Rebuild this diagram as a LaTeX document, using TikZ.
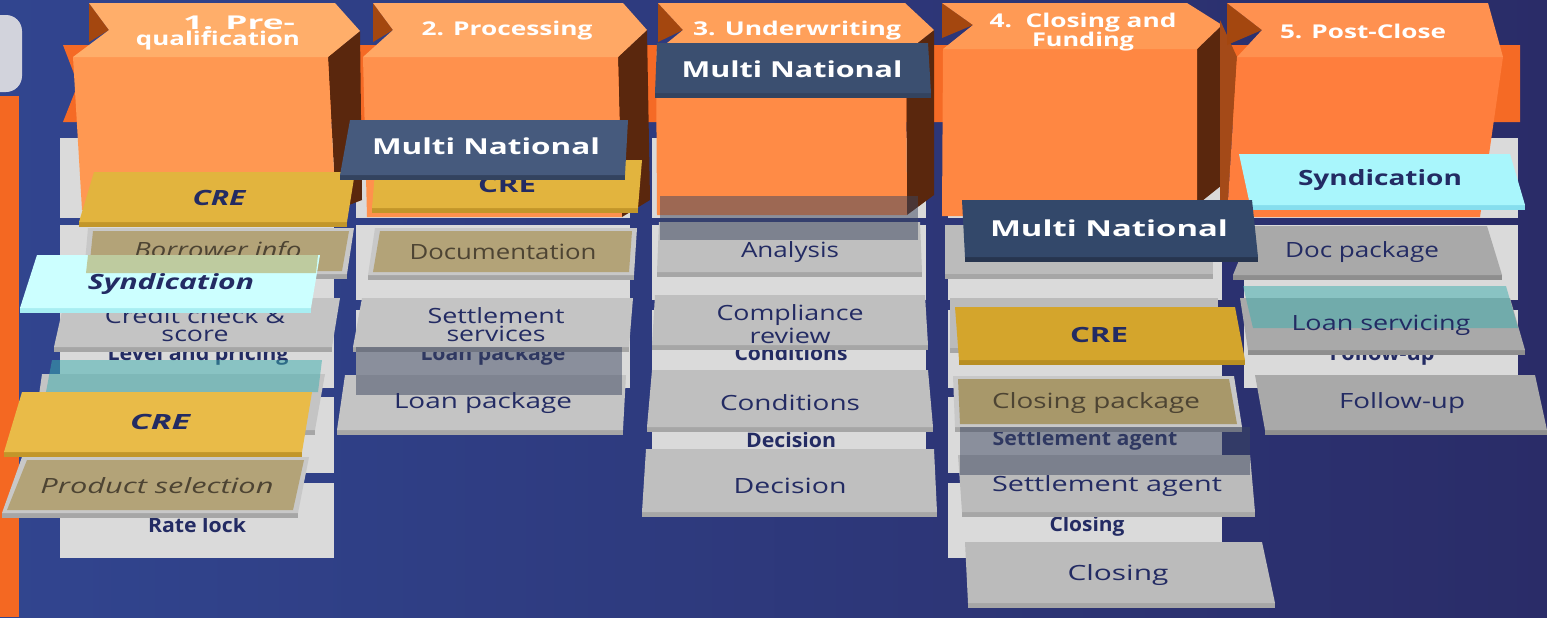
\documentclass[tikz,border=0pt]{standalone}
\usepackage{fontspec}
\setmainfont{Open Sans}
\usetikzlibrary{calc}
\definecolor{bgL}{HTML}{31458F}
\definecolor{bgR}{HTML}{2A2C68}
\definecolor{lgr}{HTML}{D2D3DC}
\definecolor{obar}{HTML}{F46822}
\definecolor{band}{HTML}{F56A25}
\definecolor{bd}{HTML}{DADADA}
\definecolor{navy}{HTML}{232B63}
\definecolor{tantxt}{HTML}{4D4433}
\definecolor{side}{HTML}{5A270D}
\definecolor{notch}{HTML}{A4470F}
\definecolor{lside}{HTML}{A44A18}
\definecolor{fr1}{HTML}{FF9852}\definecolor{tp1}{HTML}{FFAE6A}
\definecolor{fr2}{HTML}{FF914D}\definecolor{tp2}{HTML}{FFA865}
\definecolor{fr3}{HTML}{FF8B46}\definecolor{tp3}{HTML}{FFA05A}
\definecolor{fr4}{HTML}{FF8742}\definecolor{tp4}{HTML}{FF9A55}
\definecolor{fr5}{HTML}{FF7E3D}\definecolor{tp5}{HTML}{FF9150}
\definecolor{gold}{HTML}{E2B43E}\definecolor{goldE}{HTML}{C2962A}
\definecolor{gold2}{HTML}{E9BB48}
\definecolor{gold4}{HTML}{D4A52C}\definecolor{gold4E}{HTML}{B88E22}
\definecolor{mn}{HTML}{465A7D}\definecolor{mnE}{HTML}{33435F}
\definecolor{mn3}{HTML}{3B4F70}\definecolor{mn4}{HTML}{33486A}\definecolor{mn4E}{HTML}{27354F}
\definecolor{cy1}{HTML}{CCFFFF}\definecolor{cy1E}{HTML}{A8EEF2}
\definecolor{cy5}{HTML}{A9F6FC}\definecolor{cy5E}{HTML}{86DEEE}
\definecolor{tg}{HTML}{C4C4C4}\definecolor{tgE}{HTML}{A6A6A6}
\definecolor{tg3}{HTML}{BFBFBF}\definecolor{tg4}{HTML}{BBBBBB}
\definecolor{tg5}{HTML}{A9A9A9}\definecolor{tg5E}{HTML}{8E8E8E}
\definecolor{tan}{HTML}{B3A378}\definecolor{tanB}{HTML}{C8C8C8}
\definecolor{tan4}{HTML}{A8986A}
\definecolor{grn}{HTML}{BECB9F}
\definecolor{teal}{HTML}{3AAEAE}
\definecolor{ov}{HTML}{3C4660}
\newcommand\fw[2]{\resizebox{\dimexpr#1pt/2\relax}{\height}{#2}}
\newcommand\slab[6]{%
  \fill[#6] (#4) -- (#3) -- ($(#3)+(0,5)$) -- ($(#4)+(0,5)$) -- cycle;
  \fill[#5] (#1) -- (#2) -- (#3) -- (#4) -- cycle;}
\newcommand\tanslab[5]{%
  \slab{#1}{#2}{#3}{#4}{tanB}{tgE}%
  \fill[#5] ($(#1)+(5,3)$) -- ($(#2)+(-5,3)$) -- ($(#3)+(-5,-3)$) -- ($(#4)+(5,-3)$) -- cycle;}
\tikzset{
  tx/.style={inner sep=0pt,text=navy,font=\fontsize{10.5}{9}\selectfont,align=center,yshift=-1pt},
  bk/.style={inner sep=0pt,text=navy,font=\fontsize{10}{9}\selectfont\bfseries,yshift=-1.5pt},
  hd/.style={inner sep=0pt,text=white,font=\fontsize{9.5}{9.5}\selectfont\bfseries,align=center,yshift=-1.5pt},
  mnx/.style={inner sep=0pt,text=white,font=\fontsize{11}{10}\selectfont\bfseries},
  tn/.style={tx,text=tantxt}
}
\begin{document}
\begin{tikzpicture}[x=0.5pt,y=-0.5pt]
\useasboundingbox (0,0) rectangle (1547,617);
\clip (0,0) rectangle (1547,617);
\shade[left color=bgL,right color=bgR] (0,0) rectangle (1547,617);
% left edge
\fill[lgr,rounded corners=8pt] (-20,15) -- (22,15) -- (22,92) -- (-20,92) -- cycle;
\fill[obar] (0,96) rectangle (19,617);
% flat band
\fill[band] (63,45) -- (1520,45) -- (1520,122) -- (63,122) -- (78,84) -- cycle;
% backdrop rows
\foreach \x in {60,356,652,948,1244}
  \foreach \a/\b in {138/218,225/300,310/388}
    \fill[bd] (\x,\a) rectangle (\x+274,\b);
\foreach \x in {60,652,948} \fill[bd] (\x,397) rectangle (\x+274,473);
\foreach \x in {60,948} \fill[bd] (\x,483) rectangle (\x+274,558);
\node[bk] (bk1) at (198,352) {\fw{181}{Level and pricing}};
\node[bk] (bk2) at (197,522) {\fw{98}{Rate lock}};
\node[bk] (bk3) at (493,352) {\fw{145}{Loan package}};
\node[bk] (bk4) at (791,350) {\fw{113}{Conditions}};
\node[bk] (bk5) at (791,437) {\fw{90}{Decision}};
\node[bk] (bk6) at (1085,437) {\fw{185}{Settlement agent}};
\node[bk] (bk7) at (1087,523) {\fw{75}{Closing}};
\node[bk] (bk8) at (1382,352) {\fw{105}{Follow-up}};
% box 1
\fill[side] (328,57) -- (360,31) -- (362,200) -- (336,210) -- cycle;
\fill[fr1] (73,57) -- (328,57) -- (336,210) -- (82,210) -- cycle;
\fill[notch] (89,3) -- (109,30) -- (89,42) -- cycle;
\fill[tp1] (89,3) -- (335,3) -- (360,31) -- (328,57) -- (73,57) -- (109,30) -- cycle;
% box 2
\fill[side] (618,57) -- (647,30) -- (650,200) -- (622,217) -- cycle;
\fill[fr2] (363,57) -- (618,57) -- (622,217) -- (367,217) -- cycle;
\fill[notch] (373,3) -- (393,30) -- (373,42) -- cycle;
\fill[tp2] (373,3) -- (623,3) -- (647,30) -- (618,57) -- (363,57) -- (393,30) -- cycle;
% box 3
\fill[side] (906,52) -- (934,30) -- (934,195) -- (907,215) -- cycle;
\fill[fr3] (656,52) -- (906,52) -- (907,215) -- (657,215) -- cycle;
\fill[notch] (658,3) -- (683,30) -- (658,42) -- cycle;
\fill[tp3] (658,3) -- (905,3) -- (934,30) -- (906,52) -- (656,52) -- (683,30) -- cycle;
% box 4
\fill[side] (1197,49) -- (1222,25) -- (1222,185) -- (1197,205) -- cycle;
\fill[fr4] (943,49) -- (1197,49) -- (1197,216) -- (942,216) -- cycle;
\fill[notch] (942,3) -- (973,25) -- (942,38) -- cycle;
\fill[tp4] (942,3) -- (1187,3) -- (1222,25) -- (1197,49) -- (943,49) -- (973,25) -- cycle;
% box 5
\fill[lside] (1220,20) -- (1237,57) -- (1227,217) -- (1220,217) -- cycle;
\fill[fr5] (1237,57) -- (1503,57) -- (1480,217) -- (1227,217) -- cycle;
\fill[notch] (1227,3) -- (1262,30) -- (1227,45) -- cycle;
\fill[tp5] (1227,3) -- (1488,3) -- (1503,57) -- (1237,57) -- (1262,30) -- cycle;
% headers
\node[hd] (h1a) at (239,20) {\fw{112}{1. Pre-}};
\node[hd] (h1b) at (218,38) {\fw{164}{qualification}};
\node[hd] (h2) at (507,28) {\fw{171}{2. Processing}};
\node[hd] (h3) at (797,28) {\fw{208}{3. Underwriting}};
\node[hd] (h4) at (1083,29) {\fw{187}{4.\ \ Closing and}\\\fw{102}{Funding}};
\node[hd] (h5) at (1363,28) {\fw{166}{5. Post-Close}};
% ---------- column 1 tiles
\slab{94,172}{355,172}{347,222}{79,222}{gold}{goldE}
\node[tx] (c1a) at (219,196) {\fw{53}{\bfseries\itshape CRE}};
\tanslab{88,228}{354,228}{347,274}{84,274}{tan}
\node[tn] (c1b) at (218,250) {\fw{167}{\itshape Borrower info}};
\slab{65,298}{340,298}{332,347}{54,347}{tg}{tgE}
\node[tx] (c1c) at (195,323) {\fw{180}{Credit check \&}\\\fw{67}{score}};
\slab{37,255}{320,255}{311,308}{20,308}{cy1}{cy1E}
\fill[grn] (88,255) -- (318,255) -- (316,273) -- (86,273) -- cycle;
\node[tx] (c1d) at (171,282) {\fw{166}{\bfseries\itshape Syndication}};
\slab{42,374}{325,374}{315,430}{34,430}{tg}{tgE}
\fill[teal,opacity=.5] (52,360) -- (322,360) -- (318,392) -- (46,392) -- cycle;
\slab{22,392}{312,392}{302,452}{4,452}{gold2}{goldE}
\node[tx] (c1e) at (160,420) {\fw{60}{\bfseries\itshape CRE}};
\tanslab{22,457}{309,457}{298,513}{2,513}{tan}
\node[tn] (c1f) at (157,484) {\fw{233}{\itshape Product selection}};
% ---------- column 2 tiles
\slab{376,160}{642,160}{638,208}{372,208}{gold}{goldE}
\node[tx] (c2a) at (507,183) {\fw{58}{\bfseries CRE}};
\slab{350,120}{628,120}{625,175}{340,175}{mn}{mnE}
\node[mnx] (c2b) at (486,146) {\fw{228}{Multi National}};
\tanslab{375,228}{637,228}{634,275}{368,275}{tan}
\node[tn] (c2c) at (503,250) {\fw{187}{Documentation}};
\slab{362,298}{633,298}{629,347}{353,347}{tg}{tgE}
\node[tx] (c2d) at (496,323) {\fw{137}{Settlement}\\\fw{99}{services}};
\slab{345,375}{626,375}{623,430}{337,430}{tg}{tgE}
\fill[ov,opacity=.5] (356,347) -- (622,347) -- (622,395) -- (356,395) -- cycle;
\node[tx] (c2e) at (483,401) {\fw{178}{Loan package}};
% ---------- column 3 tiles
\slab{657,43}{928,43}{931,93}{655,93}{mn3}{mnE}
\node[mnx] (c3a) at (792,69) {\fw{221}{Multi National}};
\slab{659,222}{920,222}{922,272}{657,272}{tg3}{tgE}
\fill[ov,opacity=.5] (660,196) -- (918,196) -- (918,240) -- (660,240) -- cycle;
\node[tx] (c3b) at (790,250) {\fw{98}{Analysis}};
\slab{655,295}{925,295}{928,345}{652,345}{tg3}{tgE}
\node[tx] (c3c) at (790,322) {\fw{147}{Compliance}\\\fw{81}{review}};
\slab{652,370}{928,370}{933,427}{647,427}{tg3}{tgE}
\node[tx] (c3d) at (790,401) {\fw{140}{Conditions}};
\slab{646,449}{934,449}{937,512}{642,512}{tg3}{tgE}
\node[tx] (c3e) at (790,484) {\fw{113}{Decision}};
% ---------- column 5 tiles
\slab{1239,154}{1510,154}{1525,205}{1250,205}{cy5}{cy5E}
\node[tx] (c5a) at (1380,178) {\fw{164}{\bfseries Syndication}};
\slab{1253,226}{1487,226}{1502,275}{1233,275}{tg5}{tg5E}
\node[tx] (c5b) at (1362,250) {\fw{154}{Doc package}};
\slab{1240,298}{1510,298}{1525,350}{1248,350}{tg5}{tg5E}
\fill[teal,opacity=.5] (1243,286) -- (1506,286) -- (1518,328) -- (1253,328) -- cycle;
\node[tx] (c5c) at (1381,323) {\fw{179}{Loan servicing}};
\slab{1255,375}{1535,375}{1547,430}{1265,430}{tg5}{tg5E}
\node[tx] (c5d) at (1402,401) {\fw{126}{Follow-up}};
% ---------- column 4 tiles
\slab{945,225}{1213,225}{1213,274}{945,274}{tg4}{tgE}
\slab{962,200}{1252,200}{1258,257}{965,257}{mn4}{mn4E}
\node[mnx] (c4a) at (1109,228) {\fw{238}{Multi National}};
\slab{950,298}{1218,298}{1218,348}{950,348}{tg4}{tgE}
\slab{955,307}{1235,307}{1245,360}{959,360}{gold4}{gold4E}
\node[tx] (c4b) at (1099,333) {\fw{58}{\bfseries CRE}};
\tanslab{953,376}{1234,376}{1242,427}{955,427}{tan4}
\node[tn] (c4c) at (1096,401) {\fw{208}{Closing package}};
\slab{958,455}{1250,455}{1255,512}{962,512}{tg4}{tgE}
\fill[ov,opacity=.5] (960,427) -- (1250,427) -- (1250,475) -- (960,475) -- cycle;
\node[tx] (c4d) at (1107,484) {\fw{230}{Settlement agent}};
\slab{965,542}{1262,542}{1275,603}{968,603}{tg4}{tgE}
\node[tx] (c4e) at (1118,573) {\fw{101}{Closing}};
\end{tikzpicture}
\end{document}
